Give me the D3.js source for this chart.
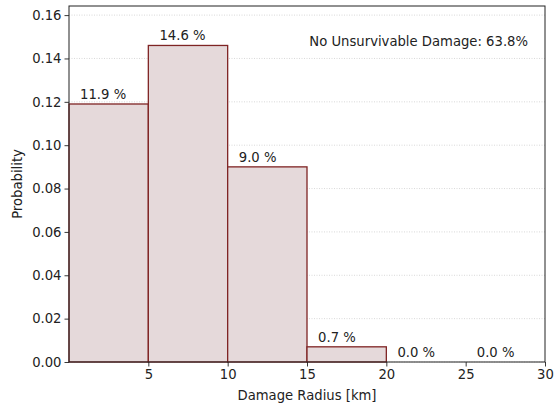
<!DOCTYPE html>
<html>
<head>
<meta charset="utf-8">
<script src="https://cdn.jsdelivr.net/npm/d3@7"></script>
<style>
  html, body { margin: 0; padding: 0; background: #fff; }
  svg { display: block; font-family: "DejaVu Sans", sans-serif; }
</style>
</head>
<body>
<svg id="chart" width="559" height="408"></svg>
<script>
// Histogram of damage radius probabilities (5 km bins)
const binStarts = [0, 5, 10, 15, 20, 25];
const binWidth = 5;
const probabilities = [0.119, 0.146, 0.090, 0.007, 0.000, 0.000];
const barLabels = ["11.9 %", "14.6 %", "9.0 %", "0.7 %", "0.0 %", "0.0 %"];
const xTicks = [5, 10, 15, 20, 25, 30];
const yTicks = [0.00, 0.02, 0.04, 0.06, 0.08, 0.10, 0.12, 0.14, 0.16];
const noteText = "No Unsurvivable Damage: 63.8%";

const svg = d3.select("#chart");
const margin = { left: 69, right: 14, top: 6, bottom: 46 };
const W = 559, H = 408;
const fs = 13.2;

const x = d3.scaleLinear().domain([0, 30]).range([margin.left, W - margin.right]);
const y = d3.scaleLinear().domain([0, 0.1642]).range([H - margin.bottom, margin.top]);

// horizontal grid
svg.append("g")
  .selectAll("line")
  .data(yTicks)
  .join("line")
  .attr("x1", x(0)).attr("x2", x(30))
  .attr("y1", d => y(d)).attr("y2", d => y(d))
  .attr("stroke", "#cfcfcf")
  .attr("stroke-width", 0.8)
  .attr("stroke-dasharray", "1,1.5");

// bars
svg.append("g")
  .selectAll("rect")
  .data(probabilities)
  .join("rect")
  .attr("x", (d, i) => x(binStarts[i]))
  .attr("width", (d, i) => x(binStarts[i] + binWidth) - x(binStarts[i]))
  .attr("y", d => y(d))
  .attr("height", d => y(0) - y(d))
  .attr("fill", "rgb(229,217,218)")
  .attr("stroke", "#7f2424")
  .attr("stroke-width", 1.3);

// value labels
svg.append("g")
  .selectAll("text")
  .data(probabilities)
  .join("text")
  .attr("x", (d, i) => x(binStarts[i] + 0.7))
  .attr("y", d => y(d) - 5)
  .attr("font-size", fs)
  .attr("fill", "#222")
  .text((d, i) => barLabels[i]);

// axes
const xAxis = d3.axisBottom(x).tickValues(xTicks).tickSize(4.5).tickPadding(3).tickFormat(d3.format("d"));
const yAxis = d3.axisLeft(y).tickValues(yTicks).tickSize(4.5).tickPadding(3).tickFormat(d3.format(".2f"));

const gx = svg.append("g").attr("transform", `translate(0,${y(0)})`).call(xAxis);
const gy = svg.append("g").attr("transform", `translate(${x(0)},0)`).call(yAxis);
[gx, gy].forEach(g => {
  g.select(".domain").remove();
  g.selectAll("text").attr("font-size", fs).attr("fill", "#222").attr("font-family", "DejaVu Sans, sans-serif");
  g.selectAll("line").attr("stroke", "#222").attr("stroke-width", 0.9);
});

// frame
svg.append("rect")
  .attr("x", x(0)).attr("y", y(0.1642))
  .attr("width", x(30) - x(0)).attr("height", y(0) - y(0.1642))
  .attr("fill", "none")
  .attr("stroke", "#222")
  .attr("stroke-width", 1);

// annotation
svg.append("text")
  .attr("x", x(30) - 17)
  .attr("y", y(0.1642) + 40)
  .attr("text-anchor", "end")
  .attr("font-size", fs)
  .attr("fill", "#222")
  .text(noteText);

// axis titles
svg.append("text")
  .attr("x", (x(0) + x(30)) / 2)
  .attr("y", 400)
  .attr("text-anchor", "middle")
  .attr("font-size", fs)
  .attr("fill", "#222")
  .text("Damage Radius [km]");

svg.append("text")
  .attr("transform", `translate(22,${(y(0) + y(0.1642)) / 2}) rotate(-90)`)
  .attr("text-anchor", "middle")
  .attr("font-size", fs)
  .attr("fill", "#222")
  .text("Probability");
</script>
</body>
</html>
